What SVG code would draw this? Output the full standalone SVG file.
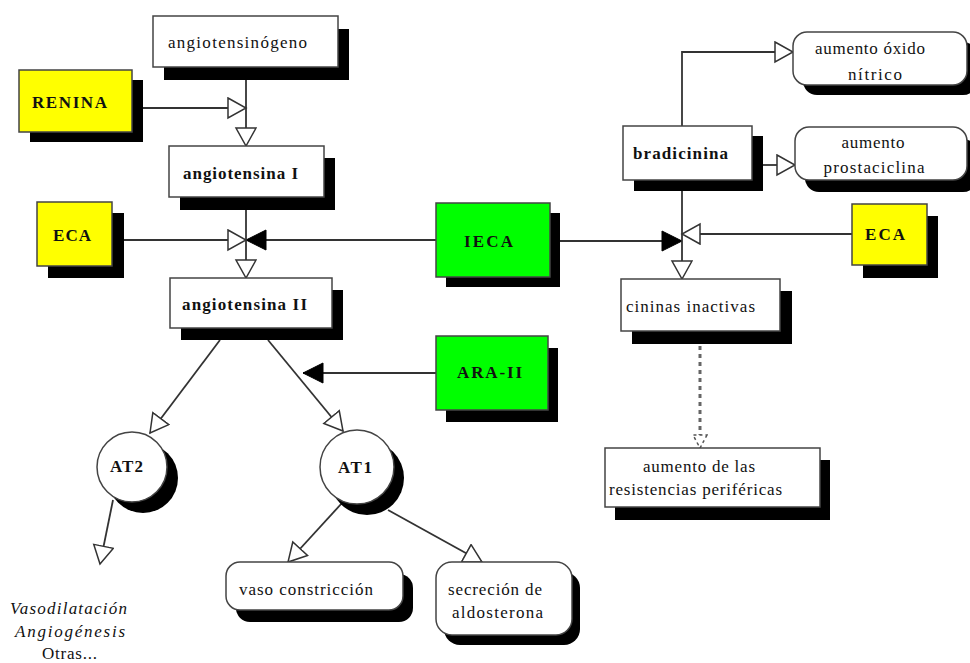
<svg xmlns="http://www.w3.org/2000/svg" width="970" height="663" viewBox="0 0 970 663">
<style>
  .box{fill:#fff;stroke:#444;stroke-width:1.5}
  .yel{fill:#ffff00;stroke:#444;stroke-width:1.5}
  .grn{fill:#00ff00;stroke:#444;stroke-width:1.5}
  .sh{fill:#000}
  .t{font-family:"Liberation Serif","Times New Roman",serif;font-size:17px;fill:#111}
  .b{font-weight:bold;font-size:17px}
  .i{font-style:italic}
  .ln{fill:none;stroke:#333;stroke-width:1.8}
  .dash{fill:none;stroke:#666;stroke-width:3;stroke-dasharray:4 4}
</style>
<defs>
  <marker id="hol" markerUnits="userSpaceOnUse" markerWidth="22" markerHeight="24" refX="19" refY="11" orient="auto" viewBox="0 0 22 24">
    <path d="M1,1 L19,11 L1,21 z" fill="#fff" stroke="#333" stroke-width="1.5"/>
  </marker>
  <marker id="blk" markerUnits="userSpaceOnUse" markerWidth="24" markerHeight="24" refX="21" refY="11" orient="auto" viewBox="0 0 24 24">
    <path d="M1,1 L21,11 L1,21 z" fill="#000" stroke="#000" stroke-width="1"/>
  </marker>
  <marker id="dsh" markerUnits="userSpaceOnUse" markerWidth="16" markerHeight="18" refX="14" refY="8" orient="auto" viewBox="0 0 16 18">
    <path d="M1,1 L14,8 L1,15 z" fill="#fff" stroke="#555" stroke-width="1.5" stroke-dasharray="3 3"/>
  </marker>
</defs>

<g id="connectors">
  <line class="ln" x1="246" y1="80" x2="246" y2="146" marker-end="url(#hol)"/>
  <line class="ln" x1="143" y1="108" x2="246" y2="108" marker-end="url(#hol)"/>
  <line class="ln" x1="124" y1="240" x2="246" y2="240" marker-end="url(#hol)"/>
  <line class="ln" x1="436" y1="240" x2="246" y2="240" marker-end="url(#blk)"/>
  <line class="ln" x1="246" y1="210" x2="246" y2="278" marker-end="url(#hol)"/>
  <line class="ln" x1="560" y1="241" x2="682" y2="241" marker-end="url(#blk)"/>
  <line class="ln" x1="852" y1="234" x2="682" y2="234" marker-end="url(#hol)"/>
  <line class="ln" x1="682" y1="191" x2="682" y2="279" marker-end="url(#hol)"/>
  <polyline class="ln" points="682,126 682,52 793,52" marker-end="url(#hol)"/>
  <line class="ln" x1="763" y1="165" x2="795" y2="165" marker-end="url(#hol)"/>
  <line class="dash" x1="700" y1="346" x2="700" y2="448" marker-end="url(#dsh)"/>
  <line class="ln" x1="436" y1="373" x2="303" y2="373" marker-end="url(#blk)"/>
  <line class="ln" x1="220" y1="340" x2="150" y2="433" marker-end="url(#hol)"/>
  <line class="ln" x1="268" y1="340" x2="343" y2="431" marker-end="url(#hol)"/>
  <line class="ln" x1="113" y1="500" x2="100" y2="564" marker-end="url(#hol)"/>
  <line class="ln" x1="342" y1="503" x2="288" y2="562" marker-end="url(#hol)"/>
  <line class="ln" x1="388" y1="510" x2="482" y2="562" marker-end="url(#hol)"/>
</g>

<g id="angiotensinogeno">
  <rect class="sh" x="164" y="29" width="185" height="51"/>
  <rect class="box" x="153" y="16" width="185" height="51"/>
  <text class="t" x="168" y="48" textLength="139" lengthAdjust="spacing">angiotensinógeno</text>
</g>
<g id="renina">
  <rect class="sh" x="30" y="80" width="113" height="62"/>
  <rect class="yel" x="19" y="70" width="113" height="62"/>
  <text class="t b" x="32" y="108" textLength="75" lengthAdjust="spacing">RENINA</text>
</g>
<g id="angiotensina1">
  <rect class="sh" x="180" y="158" width="155" height="52"/>
  <rect class="box" x="169" y="146" width="155" height="51"/>
  <text class="t b" x="183" y="179" textLength="115" lengthAdjust="spacing">angiotensina I</text>
</g>
<g id="eca-left">
  <rect class="sh" x="48" y="213" width="76" height="65"/>
  <rect class="yel" x="37" y="202" width="75" height="64"/>
  <text class="t b" x="53" y="241" textLength="38" lengthAdjust="spacing">ECA</text>
</g>
<g id="angiotensina2">
  <rect class="sh" x="181" y="290" width="162" height="50"/>
  <rect class="box" x="170" y="278" width="162" height="50"/>
  <text class="t b" x="182" y="310" textLength="125" lengthAdjust="spacing">angiotensina II</text>
</g>
<g id="ieca">
  <rect class="sh" x="446" y="213" width="114" height="74"/>
  <rect class="grn" x="436" y="203" width="114" height="74"/>
  <text class="t b" x="464" y="247" textLength="49" lengthAdjust="spacing">IECA</text>
</g>
<g id="ara2">
  <rect class="sh" x="446" y="348" width="112" height="74"/>
  <rect class="grn" x="436" y="336" width="112" height="74"/>
  <text class="t b" x="457" y="378" textLength="65" lengthAdjust="spacing">ARA-II</text>
</g>
<g id="bradicinina">
  <rect class="sh" x="634" y="136" width="129" height="55"/>
  <rect class="box" x="623" y="126" width="129" height="54"/>
  <text class="t b" x="633" y="159" textLength="95" lengthAdjust="spacing">bradicinina</text>
</g>
<g id="eca-right">
  <rect class="sh" x="863" y="216" width="75" height="62"/>
  <rect class="yel" x="852" y="204" width="75" height="61"/>
  <text class="t b" x="865" y="240" textLength="40" lengthAdjust="spacing">ECA</text>
</g>
<g id="cininas">
  <rect class="sh" x="632" y="291" width="160" height="53"/>
  <rect class="box" x="621" y="279" width="159" height="52"/>
  <text class="t" x="626" y="312" textLength="129" lengthAdjust="spacing">cininas inactivas</text>
</g>
<g id="oxido-nitrico">
  <rect class="sh" x="803" y="42" width="174" height="53" rx="14"/>
  <rect class="box" x="793" y="32" width="174" height="53" rx="14"/>
  <text class="t" x="870" y="54" text-anchor="middle" textLength="110" lengthAdjust="spacing">aumento óxido</text>
  <text class="t" x="875" y="80" text-anchor="middle" textLength="54" lengthAdjust="spacing">nítrico</text>
</g>
<g id="prostaciclina">
  <rect class="sh" x="805" y="139" width="172" height="53" rx="14"/>
  <rect class="box" x="795" y="127" width="172" height="53" rx="14"/>
  <text class="t" x="873" y="148" text-anchor="middle" textLength="63" lengthAdjust="spacing">aumento</text>
  <text class="t" x="874" y="173" text-anchor="middle" textLength="101" lengthAdjust="spacing">prostaciclina</text>
</g>
<g id="resistencias">
  <rect class="sh" x="615" y="460" width="215" height="60"/>
  <rect class="box" x="605" y="448" width="215" height="59"/>
  <text class="t" x="643" y="472" textLength="112" lengthAdjust="spacing">aumento de las</text>
  <text class="t" x="609" y="495" textLength="173" lengthAdjust="spacing">resistencias periféricas</text>
</g>
<g id="at2">
  <circle class="sh" cx="143" cy="478" r="35"/>
  <circle class="box" cx="132" cy="467" r="35"/>
  <text class="t b" x="110" y="472" textLength="33" lengthAdjust="spacing">AT2</text>
</g>
<g id="at1">
  <circle class="sh" cx="367" cy="478" r="37"/>
  <circle class="box" cx="357" cy="467" r="37"/>
  <text class="t b" x="338" y="473" textLength="34" lengthAdjust="spacing">AT1</text>
</g>
<g id="efectos-at2">
  <text class="t i" x="10" y="614" textLength="117" lengthAdjust="spacing">Vasodilatación</text>
  <text class="t i" x="15" y="637" textLength="110" lengthAdjust="spacing">Angiogénesis</text>
  <text class="t" x="42" y="659" textLength="55" lengthAdjust="spacing">Otras...</text>
</g>
<g id="vasoconstriccion">
  <rect class="sh" x="236" y="574" width="177" height="48" rx="14"/>
  <rect class="box" x="226" y="562" width="177" height="48" rx="14"/>
  <text class="t" x="239" y="595" textLength="134" lengthAdjust="spacing">vaso constricción</text>
</g>
<g id="aldosterona">
  <rect class="sh" x="444" y="572" width="136" height="73" rx="16"/>
  <rect class="box" x="436" y="562" width="136" height="73" rx="16"/>
  <text class="t" x="448" y="595" textLength="94" lengthAdjust="spacing">secreción de</text>
  <text class="t" x="452" y="618" textLength="91" lengthAdjust="spacing">aldosterona</text>
</g>
</svg>
